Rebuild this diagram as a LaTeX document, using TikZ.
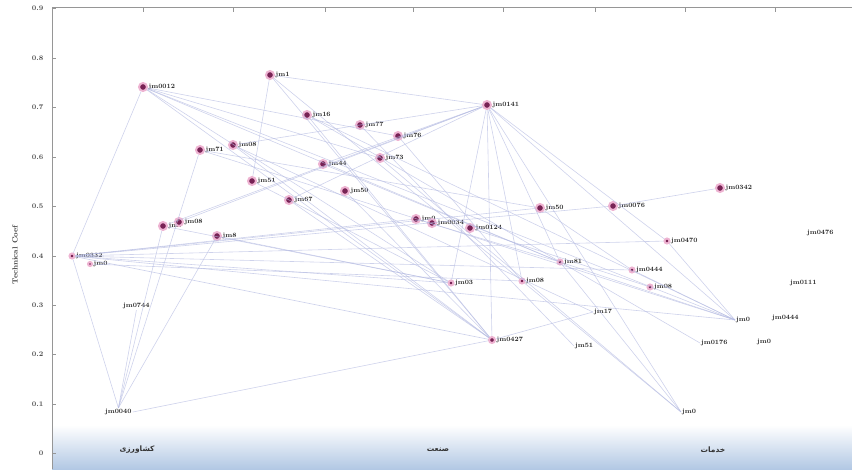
\documentclass[tikz,border=0pt]{standalone}
\usepackage{fontspec}
\usetikzlibrary{calc,positioning}
\newfontfamily\arabicfont[Script=Arabic]{DejaVu Sans}
\TeXXeTstate=1
\definecolor{dotpurple}{RGB}{120,35,85}
\definecolor{dothalo}{RGB}{238,180,210}
\definecolor{linkblue}{RGB}{180,186,225}
\definecolor{bandblue}{RGB}{178,200,228}
\definecolor{axisgray}{RGB}{150,150,150}

\begin{document}
\begin{tikzpicture}[x=1pt, y=-1pt,
  dot/.style={circle, fill=dotpurple, draw=dothalo, line width=2pt, inner sep=0pt, minimum size=8pt},
  lbl/.style={font=\fontsize{6.5}{7}\selectfont\bfseries, text=black!85, inner sep=0.5pt},
  txt/.style={font=\fontsize{6.5}{7}\selectfont\bfseries, text=black!85, anchor=west, inner sep=1pt},
  link/.style={draw=linkblue, line width=0.6pt, opacity=0.65},
  ticklbl/.style={font=\fontsize{7}{7}\selectfont\bfseries, text=black!70, anchor=east},
  sector/.style={font=\arabicfont\bfseries\fontsize{7.5}{8}\selectfont, text=black!80}]

  \useasboundingbox (0,0) rectangle (852,469);

  % bottom band and frame
  \shade[top color=white, bottom color=bandblue] (52,425) rectangle (852,469);
  \draw[axisgray, line width=0.6pt] (52,469) -- (52,7) -- (852,7);
  \foreach \xx in {143,233,325,413,503,595,685,775}
    \draw[axisgray, line width=0.5pt] (\xx,7) -- (\xx,12);
  \foreach \v/\yy in {0/453,0.1/404,0.2/354,0.3/305,0.4/256,0.5/206,0.6/157,0.7/107,0.8/58,0.9/8}{
    \draw[axisgray, line width=0.5pt] (52,\yy) -- (56,\yy);
    \node[ticklbl] (t\yy) at (47,\yy) {\v};
  }
  \node[font=\fontsize{7.5}{8}\selectfont\bfseries, text=black!75, rotate=90] (ytitle) at (15,255) {Technical Coef};

  % sectors
  \node[sector] (agri) at (137,450) {\beginR کشاورزی\endR};
  \node[sector] (indu) at (438,450) {\beginR صنعت\endR};
  \node[sector] (serv) at (713,450) {\beginR خدمات\endR};

  % products with markers
  \node[dot, label={[lbl]right:jm0012}] (a) at (143,87) {};
  \node[dot, label={[lbl]right:jm1}] (b) at (270,75) {};
  \node[dot, label={[lbl]right:jm0141}] (c) at (487,105) {};
  \node[dot, label={[lbl]right:jm16}] (d) at (307,115) {};
  \node[dot, label={[lbl]right:jm77}] (e) at (360,125) {};
  \node[dot, label={[lbl]right:jm76}] (f) at (398,136) {};
  \node[dot, label={[lbl]right:jm71}] (g) at (200,150) {};
  \node[dot, label={[lbl]right:jm08}] (h) at (233,145) {};
  \node[dot, label={[lbl]right:jm44}] (i) at (323,164) {};
  \node[dot, label={[lbl]right:jm73}] (j) at (380,158) {};
  \node[dot, label={[lbl]right:jm51}] (k) at (252,181) {};
  \node[dot, label={[lbl]right:jm50}] (l) at (345,191) {};
  \node[dot, label={[lbl]right:jm67}] (m) at (289,200) {};
  \node[dot, label={[lbl]right:jm7}] (n) at (163,226) {};
  \node[dot, label={[lbl]right:jm08}] (o) at (179,222) {};
  \node[dot, label={[lbl]right:jm8}] (p) at (217,236) {};
  \node[dot, label={[lbl]right:jm0}] (q) at (416,219) {};
  \node[dot, label={[lbl]right:jm0034}] (r) at (432,223) {};
  \node[dot, label={[lbl]right:jm0124}] (s) at (470,228) {};
  \node[dot, label={[lbl]right:jm50}] (t) at (540,208) {};
  \node[dot, label={[lbl]right:jm0076}] (u) at (613,206) {};
  \node[dot, label={[lbl]right:jm0342}] (v) at (720,188) {};
  \node[dot, minimum size=5pt, label={[lbl]right:jm0332}] (x1) at (72,256) {};
  \node[dot, minimum size=4pt, label={[lbl]right:jm0}] (x2) at (90,264) {};
  \node[dot, minimum size=5pt, label={[lbl]right:jm0470}] (y) at (667,241) {};
  \node[dot, minimum size=5pt, label={[lbl]right:jm81}] (z) at (560,262) {};
  \node[dot, minimum size=5pt, label={[lbl]right:jm0444}] (aa) at (632,270) {};
  \node[dot, minimum size=5pt, label={[lbl]right:jm08}] (ab) at (650,287) {};
  \node[dot, minimum size=5pt, label={[lbl]right:jm03}] (ac) at (451,283) {};
  \node[dot, minimum size=5pt, label={[lbl]right:jm08}] (ad) at (522,281) {};
  \node[dot, minimum size=6pt, label={[lbl]right:jm0427}] (aj) at (492,340) {};

  % products without markers
  \node[txt] (w) at (806,233) {jm0476};
  \node[txt] (ae) at (122,306) {jm0744};
  \node[txt] (af) at (789,283) {jm0111};
  \node[txt] (ag) at (593,312) {jm17};
  \node[txt] (ah) at (735,320) {jm0};
  \node[txt] (ai) at (771,318) {jm0444};
  \node[txt] (ak) at (574,346) {jm51};
  \node[txt] (al) at (700,343) {jm0176};
  \node[txt] (am) at (756,342) {jm0};
  \node[txt] (an) at (104,412) {jm0040};
  \node[txt] (ao) at (681,412) {jm0};

  % links
  \foreach \s/\e in {a/x1,a/f,a/aj,a/ah.west,a/ac,a/j,a/z,
      b/c,b/aj,b/k,b/ad,
      c/h,c/m,c/n,c/aj,c/z,c/ao.west,c/ah.west,c/y,c/ad,c/i,c/ac,
      x1/aj,x1/ah.west,x1/t,x1/ac,x1/q,x1/y,x1/u,x1/aa,x2/ad,
      an.north/x1,an.north/n,an.east/aj,an.north/p,an.north/g,ae.south/an.north,
      h/aj,d/aj,d/ah.west,l/aj,g/ah.west,e/ak.west,f/ad,j/ao.west,i/z,k/ac,p/ac,
      u/v,t/aa,z/ah.west,aa/ah.west,y/ah.west,z/ao.west,ag.west/aj,ad/ao.west,
      o/c,g/t,m/aj,h/ag.west,d/al.west,q/z,s/ab,n/ac}
    \draw[link] (\s) -- (\e);
\end{tikzpicture}
\end{document}
